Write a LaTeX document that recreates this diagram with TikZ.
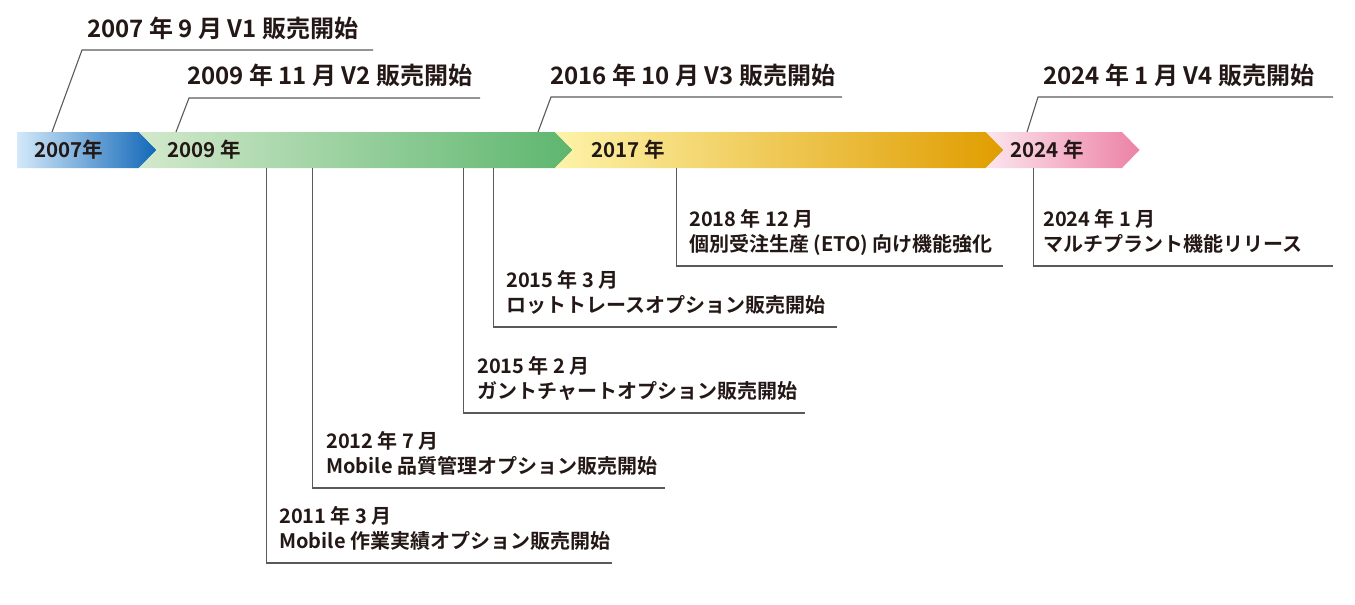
\documentclass[tikz,border=0pt]{standalone}
\usepackage{fontspec}
\setmainfont{Noto Sans CJK JP}[BoldFont={Noto Sans CJK JP Bold}]
\definecolor{ink}{HTML}{231815}
\definecolor{rule}{HTML}{5A5A5A}
\definecolor{bluel}{HTML}{D3E9F9}
\definecolor{blued}{HTML}{1268B8}
\definecolor{greenl}{HTML}{D2E9CC}
\definecolor{greend}{HTML}{5DB66E}
\definecolor{yell}{HTML}{FDF3A9}
\definecolor{yeld}{HTML}{E09D00}
\definecolor{pinkl}{HTML}{FCE5EE}
\definecolor{pinkd}{HTML}{EC82A6}
\begin{document}
\begin{tikzpicture}[x=1pt,y=-1pt,
  bigtxt/.style={anchor=base west,inner sep=0pt,font=\bfseries\fontsize{24}{24}\selectfont,text=ink},
  bandtxt/.style={anchor=base west,inner sep=0pt,font=\bfseries\fontsize{20.5}{20.5}\selectfont,text=ink},
  smalltxt/.style={anchor=base west,inner sep=0pt,font=\bfseries\fontsize{20}{20}\selectfont,text=ink},
  leader/.style={draw=rule,line width=1.1pt}]
\useasboundingbox (0,0) rectangle (1355,605);
% band segments
\shade[left color=bluel,right color=blued] (17,132) -- (139,132) -- (156.5,150) -- (139,168) -- (17,168) -- cycle;
\shade[left color=greenl,right color=greend] (139,132) -- (555,132) -- (572.5,150) -- (555,168) -- (139,168) -- (156.5,150) -- cycle;
\shade[left color=yell,right color=yeld] (555,132) -- (986,132) -- (1003.5,150) -- (986,168) -- (555,168) -- (572.5,150) -- cycle;
\shade[left color=pinkl,right color=pinkd] (986,132) -- (1122,132) -- (1139.5,150) -- (1122,168) -- (986,168) -- (1003.5,150) -- cycle;
% band labels
\node[bandtxt] (y2007) at (34,157) {2007年};
\node[bandtxt] (y2009) at (167,157) {2009 年};
\node[bandtxt] (y2017) at (591,157) {2017 年};
\node[bandtxt] (y2024) at (1010,157) {2024 年};
% top labels
\node[bigtxt] (v1) at (87,37) {2007 年 9 月 V1 販売開始};
\node[bigtxt] (v2) at (187,84) {2009 年 11 月 V2 販売開始};
\node[bigtxt] (v3) at (550,84) {2016 年 10 月 V3 販売開始};
\node[bigtxt] (v4) at (1043,84) {2024 年 1 月 V4 販売開始};
\coordinate (v1a) at (52,132); \coordinate (v1b) at (82,50); \coordinate (v1c) at (373,50);
\coordinate (v2a) at (176,132); \coordinate (v2b) at (189,98); \coordinate (v2c) at (480,98);
\coordinate (v3a) at (538,132); \coordinate (v3b) at (551,97); \coordinate (v3c) at (842,97);
\coordinate (v4a) at (1027,132); \coordinate (v4b) at (1038,97); \coordinate (v4c) at (1333,97);
\draw[leader] (v1a) -- (v1b) -- (v1c);
\draw[leader] (v2a) -- (v2b) -- (v2c);
\draw[leader] (v3a) -- (v3b) -- (v3c);
\draw[leader] (v4a) -- (v4b) -- (v4c);
% bottom labels
\node[smalltxt] (e1a) at (279,523) {2011 年 3 月};
\node[smalltxt] (e1b) at (279,548) {Mobile 作業実績オプション販売開始};
\node[smalltxt] (e2a) at (326,448) {2012 年 7 月};
\node[smalltxt] (e2b) at (326,473) {Mobile 品質管理オプション販売開始};
\node[smalltxt] (e3a) at (477,373) {2015 年 2 月};
\node[smalltxt] (e3b) at (477,398) {ガントチャートオプション販売開始};
\node[smalltxt] (e4a) at (506,287) {2015 年 3 月};
\node[smalltxt] (e4b) at (506,312) {ロットトレースオプション販売開始};
\node[smalltxt] (e5a) at (689,226) {2018 年 12 月};
\node[smalltxt] (e5b) at (689,251) {個別受注生産 (ETO) 向け機能強化};
\node[smalltxt] (e6a) at (1043,226) {2024 年 1 月};
\node[smalltxt] (e6b) at (1043,251) {マルチプラント機能リリース};
\coordinate (e1t) at (266.5,168); \coordinate (e1c) at (266.5,563); \coordinate (e1e) at (612,563);
\coordinate (e2t) at (312.5,168); \coordinate (e2c) at (312.5,488); \coordinate (e2e) at (665,488);
\coordinate (e3t) at (463.5,168); \coordinate (e3c) at (463.5,413); \coordinate (e3e) at (805,413);
\coordinate (e4t) at (493.5,168); \coordinate (e4c) at (493.5,327); \coordinate (e4e) at (837,327);
\coordinate (e5t) at (676.5,168); \coordinate (e5c) at (676.5,266); \coordinate (e5e) at (1003,266);
\coordinate (e6t) at (1033.5,168); \coordinate (e6c) at (1033.5,266); \coordinate (e6e) at (1333,266);
\draw[leader] (e1t) -- (e1c) -- (e1e);
\draw[leader] (e2t) -- (e2c) -- (e2e);
\draw[leader] (e3t) -- (e3c) -- (e3e);
\draw[leader] (e4t) -- (e4c) -- (e4e);
\draw[leader] (e5t) -- (e5c) -- (e5e);
\draw[leader] (e6t) -- (e6c) -- (e6e);
\end{tikzpicture}
\end{document}
